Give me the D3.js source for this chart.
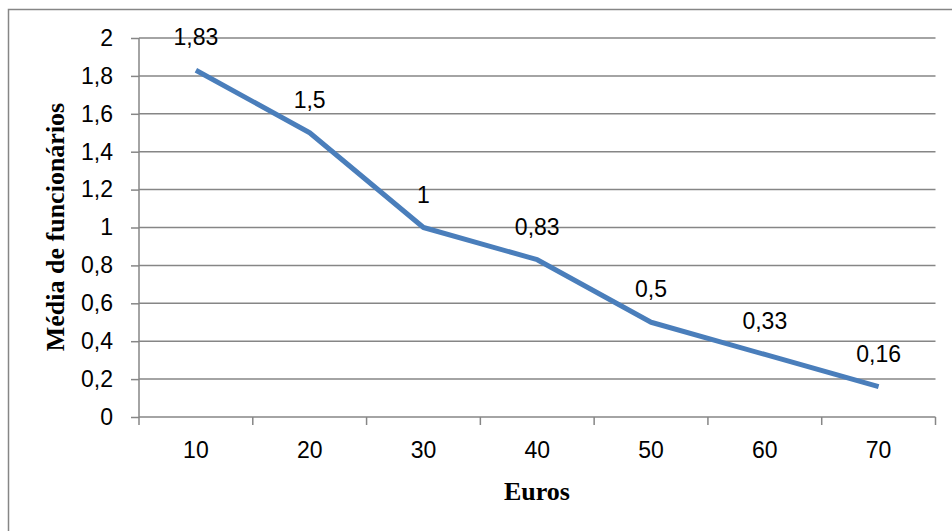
<!DOCTYPE html>
<html>
<head>
<meta charset="utf-8">
<script src="https://cdn.jsdelivr.net/npm/d3@7"></script>
<style>
  body { margin: 0; background: #fff; }
  svg { display: block; }
</style>
</head>
<body>
<div class="chart"></div>
<script>
// data
var euros = ["10", "20", "30", "40", "50", "60", "70"];
var media = [1.83, 1.5, 1, 0.83, 0.5, 0.33, 0.16];
var mediaLabels = ["1,83", "1,5", "1", "0,83", "0,5", "0,33", "0,16"];
var yTicks = [0, 0.2, 0.4, 0.6, 0.8, 1, 1.2, 1.4, 1.6, 1.8, 2];

var width = 952, height = 531;
var plotLeft = 139, plotRight = 935.5, plotTop = 38, plotBottom = 417;
var gray = "#868686";
var labelFont = "'Liberation Sans', Arial, sans-serif";

var svg = d3.select(".chart").append("svg")
    .attr("width", width)
    .attr("height", height);

// outer frame (only top and left edge show in the picture)
svg.append("path")
    .attr("d", "M8.5," + height + "V9.5H" + width)
    .attr("fill", "none").attr("stroke", gray).attr("stroke-width", 1.5);

var x = d3.scaleBand().domain(euros).range([plotLeft, plotRight]).padding(0);
var y = d3.scaleLinear().domain([0, 2]).range([plotBottom, plotTop]);

// gridlines
svg.append("g").selectAll("line")
    .data(yTicks.filter(function(d) { return d > 0; })).enter()
    .append("line")
    .attr("x1", plotLeft).attr("x2", plotRight)
    .attr("y1", function(d) { return y(d); })
    .attr("y2", function(d) { return y(d); })
    .attr("stroke", gray).attr("stroke-width", 1.5);

// y axis
var yAxis = svg.append("g")
    .attr("transform", "translate(" + plotLeft + ",0)")
    .call(d3.axisLeft(y).tickValues(yTicks).tickSize(8).tickPadding(18)
      .tickFormat(function(d) { return d3.format("~g")(d).replace(".", ","); }));

// x axis, ticks between categories
var xAxis = svg.append("g")
    .attr("transform", "translate(0," + plotBottom + ")")
    .call(d3.axisBottom(x).tickSize(0).tickPadding(25));
xAxis.selectAll(".sep")
    .data(d3.range(euros.length + 1)).enter()
    .append("line").attr("class", "sep")
    .attr("x1", function(i) { return plotLeft + i * x.step(); })
    .attr("x2", function(i) { return plotLeft + i * x.step(); })
    .attr("y1", 0).attr("y2", 8)
    .attr("stroke", gray).attr("stroke-width", 1.5);

[yAxis, xAxis].forEach(function(a) {
  a.select(".domain").attr("stroke", gray).attr("stroke-width", 1.5);
  a.selectAll(".tick line").attr("stroke", gray).attr("stroke-width", 1.5);
  a.selectAll("text")
    .attr("fill", "#000")
    .style("font-family", labelFont)
    .style("font-size", "23px");
});
yAxis.select(".domain").attr("d", "M0," + plotBottom + "V" + plotTop);
xAxis.select(".domain").attr("d", "M" + plotLeft + ",0H" + plotRight);

// line
var line = d3.line()
    .x(function(d, i) { return x(euros[i]) + x.bandwidth() / 2; })
    .y(function(d) { return y(d); });

svg.append("path")
    .datum(media)
    .attr("d", line)
    .attr("fill", "none")
    .attr("stroke", "#4a7ebb")
    .attr("stroke-width", 5)
    .attr("stroke-linejoin", "round");

// data labels
svg.append("g").selectAll("text")
    .data(media).enter()
    .append("text")
    .attr("x", function(d, i) { return x(euros[i]) + x.bandwidth() / 2; })
    .attr("y", function(d) { return y(d) - 25; })
    .attr("text-anchor", "middle")
    .style("font-family", labelFont)
    .style("font-size", "23px")
    .text(function(d, i) { return mediaLabels[i]; });

// axis titles
svg.append("text")
    .attr("x", 537).attr("y", 500)
    .attr("text-anchor", "middle")
    .style("font-family", "'Liberation Serif', 'Times New Roman', serif")
    .style("font-weight", "bold")
    .style("font-size", "26px")
    .text("Euros");

svg.append("text")
    .attr("transform", "translate(64,227) rotate(-90)")
    .attr("text-anchor", "middle")
    .style("font-family", "'Liberation Serif', 'Times New Roman', serif")
    .style("font-weight", "bold")
    .style("font-size", "26px")
    .text("Média de funcionários");
</script>
</body>
</html>
